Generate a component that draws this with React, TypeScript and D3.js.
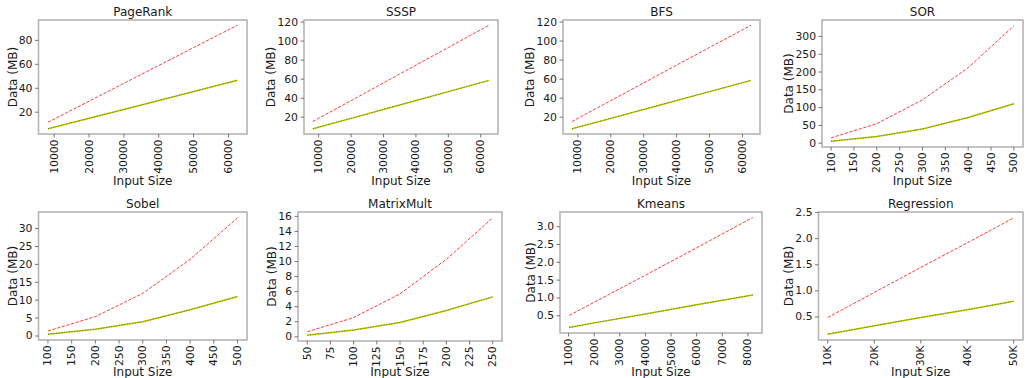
import * as d3 from "d3";
import { useEffect } from "react";

// input sizes
const graphX = [8200, 20000, 35000, 50000, 62600];
const sizeX = [100, 200, 300, 400, 500];
const matrixX = [50, 100, 150, 200, 250];
const kmeansX = [1024, 2000, 4000, 6000, 8192];
const regressionX = [10000, 20000, 30000, 40000, 50000];

// data in MB (red dashed / olive line)
const pageRankRed = [11.6, 29.2, 51.6, 74.0, 92.7];
const pageRankGreen = [6.1, 14.9, 26.0, 37.2, 46.6];
const ssspRed = [15.5, 37.4, 65.4, 93.3, 116.7];
const ssspGreen = [7.8, 18.8, 32.9, 46.9, 58.7];
const bfsRed = [15.5, 37.4, 65.4, 93.3, 116.7];
const bfsGreen = [7.8, 18.8, 32.9, 46.9, 58.7];
const sorRed = [15, 55, 122, 212, 330];
const sorGreen = [5.5, 19, 40, 72, 111];
const sobelRed = [1.4, 5.4, 11.9, 21.4, 33.0];
const sobelGreen = [0.5, 1.9, 4.0, 7.3, 11.0];
const matrixRed = [0.67, 2.55, 5.7, 10.3, 15.8];
const matrixGreen = [0.22, 0.9, 1.9, 3.5, 5.3];
const kmeansRed = [0.51, 0.88, 1.64, 2.41, 3.26];
const kmeansGreen = [0.17, 0.3, 0.55, 0.81, 1.085];
const regressionRed = [0.49, 0.97, 1.45, 1.92, 2.4];
const regressionGreen = [0.17, 0.33, 0.49, 0.64, 0.8];

// ticks
const graphXTicks = [10000, 20000, 30000, 40000, 50000, 60000];
const sizeXTicks = [100, 150, 200, 250, 300, 350, 400, 450, 500];
const matrixXTicks = [50, 75, 100, 125, 150, 175, 200, 225, 250];
const kmeansXTicks = [1000, 2000, 3000, 4000, 5000, 6000, 7000, 8000];
const regressionXTicks = [10000, 20000, 30000, 40000, 50000];
const regressionXLabels = ["10K", "20K", "30K", "40K", "50K"];

const pageRankYTicks = [20, 40, 60, 80];
const graphYTicks = [20, 40, 60, 80, 100, 120];
const sorYTicks = [0, 50, 100, 150, 200, 250, 300];
const sobelYTicks = [0, 5, 10, 15, 20, 25, 30];
const matrixYTicks = [0, 2, 4, 6, 8, 10, 12, 14, 16];
const kmeansYTicks = [0.5, 1.0, 1.5, 2.0, 2.5, 3.0];
const regressionYTicks = [0.5, 1.0, 1.5, 2.0, 2.5];

const titles = ["PageRank", "SSSP", "BFS", "SOR", "Sobel", "MatrixMult", "Kmeans", "Regression"];

// axes rectangles [left, top, right, bottom]
const rects = [
  [38.5, 20, 247, 134],
  [304, 20, 498, 134],
  [563, 20, 760, 134],
  [822, 20, 1023, 147],
  [38.5, 212, 247, 340],
  [298, 212, 502, 341],
  [560, 212, 762, 333],
  [818.5, 212, 1023, 340],
];

const panels = [
  { x: graphX, red: pageRankRed, green: pageRankGreen, xt: graphXTicks, yt: pageRankYTicks, fmt: "d" },
  { x: graphX, red: ssspRed, green: ssspGreen, xt: graphXTicks, yt: graphYTicks, fmt: "d" },
  { x: graphX, red: bfsRed, green: bfsGreen, xt: graphXTicks, yt: graphYTicks, fmt: "d" },
  { x: sizeX, red: sorRed, green: sorGreen, xt: sizeXTicks, yt: sorYTicks, fmt: "d" },
  { x: sizeX, red: sobelRed, green: sobelGreen, xt: sizeXTicks, yt: sobelYTicks, fmt: "d" },
  { x: matrixX, red: matrixRed, green: matrixGreen, xt: matrixXTicks, yt: matrixYTicks, fmt: "d" },
  { x: kmeansX, red: kmeansRed, green: kmeansGreen, xt: kmeansXTicks, yt: kmeansYTicks, fmt: ".1f" },
  { x: regressionX, red: regressionRed, green: regressionGreen, xt: regressionXTicks, yt: regressionYTicks, fmt: ".1f", xl: regressionXLabels },
];

const FONT = "DejaVu Sans, sans-serif";
const FS = 12;
const TICK_FS = 10.8;
const TEXT = "#1a1a1a";

// matplotlib style 5% margins
function padded(vals: number[]) {
  const [lo, hi] = d3.extent(vals) as [number, number];
  const m = (hi - lo) * 0.05;
  return [lo - m, hi + m];
}

// rough DejaVu Sans widths
function textW(s: string) {
  let w = 0;
  for (const c of s) w += c === "." ? 0.318 : 0.636;
  return w * 11;
}

function Panel({ p, rect, title }: any) {
  const [l, t, r, b] = rect;
  const x = d3.scaleLinear().domain(padded(p.x)).range([l, r]);
  const y = d3.scaleLinear().domain(padded([...p.red, ...p.green])).range([b, t]);
  const line = (vals: number[]) =>
    d3.line<number>().x((_, i) => x(p.x[i])).y((v) => y(v))(vals) as string;
  const fmt = d3.format(p.fmt);
  const yLabels = p.yt.map((v: number) => fmt(v));
  const maxW = d3.max(yLabels, (s: string) => textW(s)) as number;
  const ylabX = l - maxW - 12;

  return (
    <g fontFamily={FONT} fill={TEXT}>
      <path d={line(p.green)} fill="none" stroke="#c4c400" strokeWidth={1.5} />
      <path d={line(p.green)} fill="none" stroke="#3f7f00" strokeWidth={0.9} strokeDasharray="1 1.65" />
      <path d={line(p.red)} fill="none" stroke="#ff3b3b" strokeWidth={1} strokeDasharray="3.2 1.6" />
      <rect x={l} y={t} width={r - l} height={b - t} fill="none" stroke="#b5b5b5" strokeWidth={1.6} />
      {p.yt.map((v: number, i: number) => (
        <g key={"y" + i}>
          <line x1={l - 3.5} x2={l} y1={y(v)} y2={y(v)} stroke="#555" strokeWidth={0.8} />
          <text x={l - 6} y={y(v)} fontSize={TICK_FS} textAnchor="end" dominantBaseline="central">
            {yLabels[i]}
          </text>
        </g>
      ))}
      {p.xt.map((v: number, i: number) => (
        <g key={"x" + i}>
          <line x1={x(v)} x2={x(v)} y1={b} y2={b + 3.5} stroke="#555" strokeWidth={0.8} />
          <text
            transform={`translate(${x(v)},${b + 5.5}) rotate(-90)`}
            fontSize={TICK_FS}
            textAnchor="end"
            dominantBaseline="central"
          >
            {p.xl ? p.xl[i] : String(v)}
          </text>
        </g>
      ))}
      <text x={(l + r) / 2} y={t - 4} fontSize={FS} textAnchor="middle">
        {title}
      </text>
      <text x={(l + r) / 2} y={t < 100 ? 184.5 : 376} fontSize={FS} textAnchor="middle">
        Input Size
      </text>
      <text
        transform={`translate(${ylabX},${(t + b) / 2}) rotate(-90)`}
        fontSize={FS}
        textAnchor="middle"
        dominantBaseline="central"
      >
        Data (MB)
      </text>
    </g>
  );
}

export default function App() {
  useEffect(() => {
    document.body.style.margin = "0";
  }, []);
  return (
    <svg width={1028} height={378} style={{ display: "block", background: "#fff" }}>
      {panels.map((p, i) => (
        <Panel key={i} p={p} rect={rects[i]} title={titles[i]} />
      ))}
    </svg>
  );
}
